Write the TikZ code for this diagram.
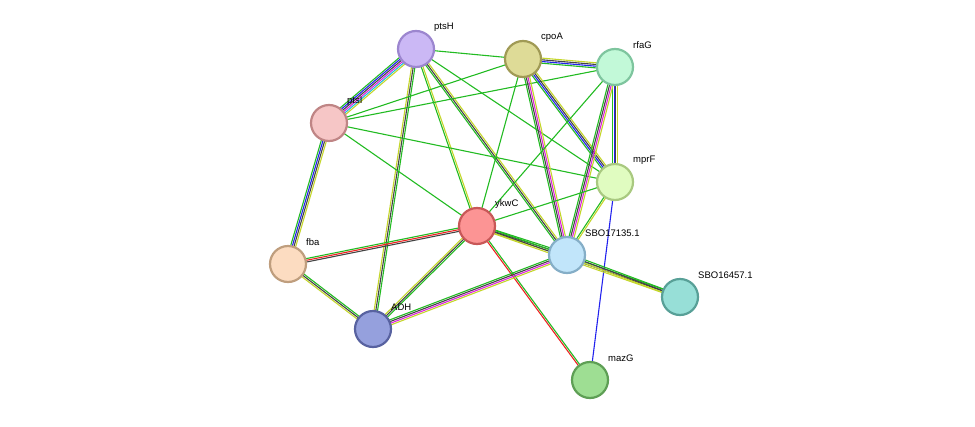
\documentclass[tikz,border=0pt]{standalone}
\usepackage{fontspec}
\setmainfont{Liberation Sans}
\usetikzlibrary{calc,backgrounds}
\definecolor{cg}{HTML}{22BB22}
\definecolor{cb}{HTML}{2222EE}
\definecolor{cm}{HTML}{DD22DD}
\definecolor{cc}{HTML}{22BBDD}
\definecolor{ck}{HTML}{444444}
\definecolor{cy}{HTML}{C4D62A}
\definecolor{cr}{HTML}{EE2222}
\tikzset{
  prot/.style 2 args={circle,minimum size=36pt,inner sep=0pt,line width=2.2pt,fill=#1,draw=#2},
  lab/.style={anchor=west,font=\fontsize{9.5}{11}\selectfont,inner sep=0pt},
  ln/.style={line width=1.1pt}
}
\newcommand\edg[4]{% from, to, count, colors
  \foreach \c [count=\i] in {#4}{
    \pgfmathsetmacro\o{(\i-1-(#3-1)/2)*1.7}
    \draw[ln,draw=\c] ($(#1)!\o pt!90:(#2)$) -- ($(#2)!\o pt!-90:(#1)$);
  }}
\newcommand\prot[6]{% name, x, y, fill, draw, label
  \definecolor{f#1}{HTML}{#4}\definecolor{d#1}{HTML}{#5}
  \node[prot={f#1}{d#1}] (#1) at (#2,#3) {};
  \node[lab] (#1-l) at ($(#1)+(18,-22)$) {#6};}
\begin{document}
\begin{tikzpicture}[x=1pt,y=-1pt]
\useasboundingbox (0,0) rectangle (975,426);
\prot{ptsH}{416}{49}{CBB8F5}{9C86CF}{ptsH}
\prot{cpoA}{523}{59}{DEDB97}{A09A55}{cpoA}
\prot{rfaG}{615}{67}{C2F9D8}{7EC59E}{rfaG}
\prot{ptsI}{329}{123}{F6C6C6}{BF8585}{ptsI}
\prot{mprF}{615}{182}{E0FCC0}{A9C980}{mprF}
\prot{ykwC}{477}{226}{FC9494}{C85858}{ykwC}
\prot{sbo}{567}{255}{C1E5FA}{85AEC7}{SBO17135.1}
\prot{fba}{288}{264}{FCDCC1}{BF9E7E}{fba}
\prot{sbp}{680}{297}{97DFD7}{58A097}{SBO16457.1}
\prot{ADH}{373}{329}{95A0DD}{5862A0}{ADH}
\prot{mazG}{590}{380}{9EDE93}{5E9F55}{mazG}
\begin{scope}[on background layer]
\edg{ptsH}{cpoA}{1}{cg}
\edg{ptsH}{ptsI}{6}{cg,cb,ck,cm,cc,cy}
\edg{ptsH}{ADH}{3}{cy,ck,cg}
\edg{ptsH}{ykwC}{2}{cg,cy}
\edg{ptsH}{sbo}{3}{cg,ck,cy}
\edg{ptsH}{mprF}{1}{cg}
\edg{ptsI}{cpoA}{1}{cg}
\edg{ptsI}{rfaG}{1}{cg}
\edg{ptsI}{mprF}{1}{cg}
\edg{ptsI}{ykwC}{1}{cg}
\edg{ptsI}{fba}{4}{cg,cb,ck,cy}
\edg{cpoA}{rfaG}{4}{cg,cb,ck,cy}
\edg{cpoA}{mprF}{4}{cg,cb,ck,cy}
\edg{cpoA}{sbo}{4}{cg,ck,cm,cy}
\edg{cpoA}{ykwC}{1}{cg}
\edg{rfaG}{mprF}{4}{cg,cb,ck,cy}
\edg{rfaG}{sbo}{4}{cg,ck,cm,cy}
\edg{rfaG}{ykwC}{1}{cg}
\edg{mprF}{ykwC}{1}{cg}
\edg{mprF}{sbo}{2}{cg,cy}
\edg{mprF}{mazG}{1}{cb}
\edg{ykwC}{fba}{3}{cg,cr,ck}
\edg{ykwC}{ADH}{3}{cy,ck,cg}
\edg{ykwC}{sbo}{3}{cy,ck,cg}
\edg{ykwC}{sbp}{3}{cy,ck,cg}
\edg{sbo}{sbp}{3}{cy,ck,cg}
\edg{ykwC}{mazG}{2}{cr,cg}
\edg{fba}{ADH}{3}{cy,ck,cg}
\edg{ADH}{sbo}{4}{cy,cm,ck,cg}
\end{scope}
\end{tikzpicture}
\end{document}
